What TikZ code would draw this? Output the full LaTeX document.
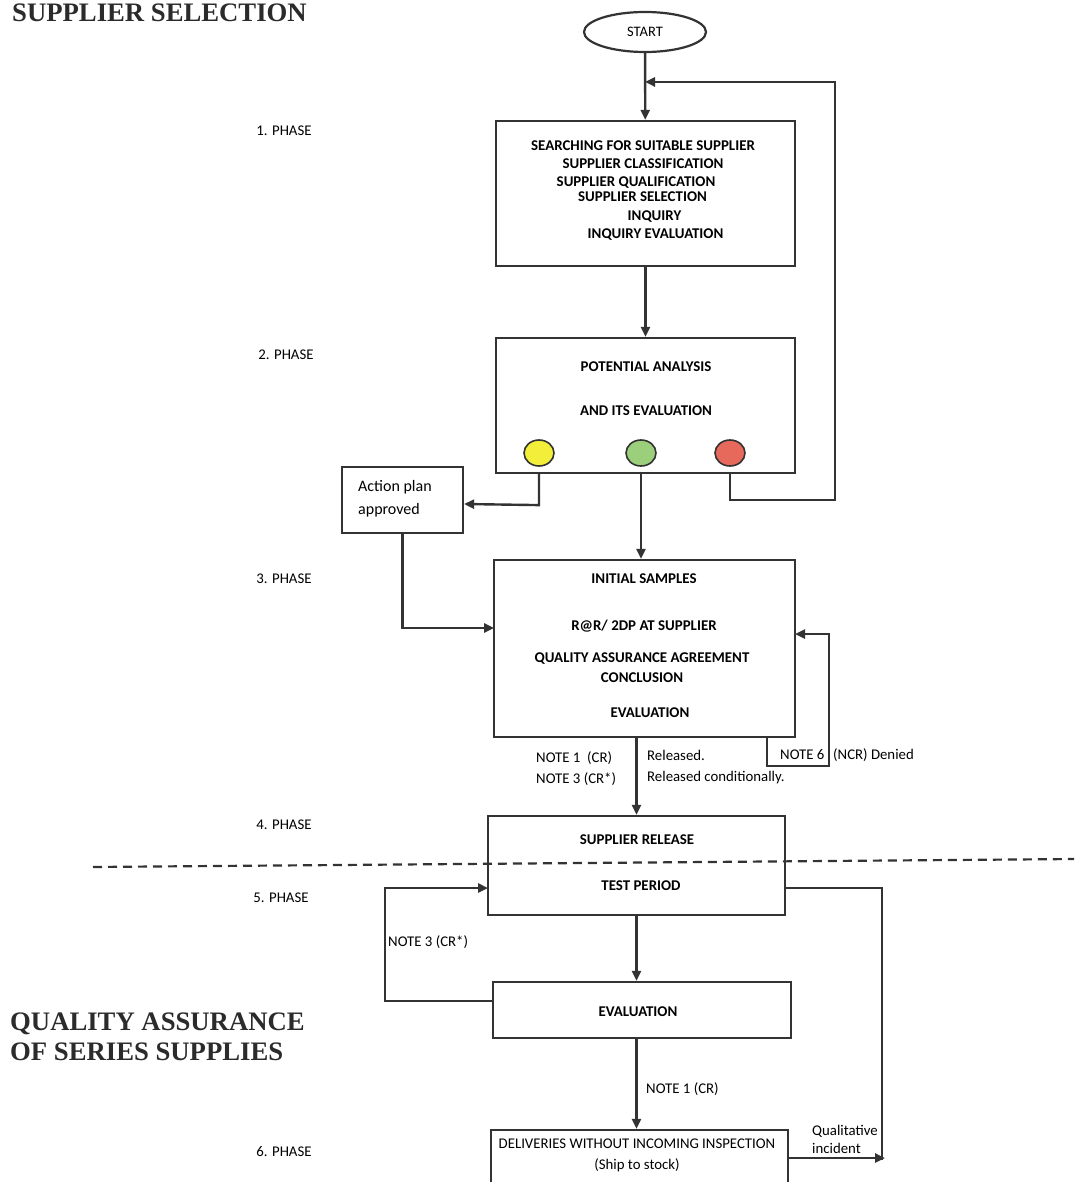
\documentclass[tikz,border=0pt]{standalone}
\usepackage{fontspec}
\setmainfont{Carlito}
\newfontfamily\titlefont{Liberation Serif}
\usetikzlibrary{arrows.meta,shapes.geometric}
\definecolor{ink}{HTML}{333333}
\definecolor{ttl}{HTML}{2B2B2B}
\definecolor{cyel}{HTML}{F3EE3A}
\definecolor{cgrn}{HTML}{9CCF7C}
\definecolor{cred}{HTML}{E6695B}
\tikzset{
  boxn/.style={draw=ink,line width=2.2pt,minimum width=#1,inner sep=0pt},
  conn/.style={draw=ink,line width=2.4pt},
  arr/.style={conn,-{Triangle[length=10pt,width=9pt]}},
  bt/.style={font=\fontsize{14.9}{16}\selectfont\bfseries,text=black,anchor=mid,inner sep=0pt,yshift=-3pt},
  rt/.style={font=\fontsize{14.8}{16}\selectfont,text=black,anchor=mid west,inner sep=0pt,yshift=-3pt},
  ph/.style={font=\fontsize{14.8}{16}\selectfont,text=black,anchor=mid,inner sep=0pt,yshift=-3pt},
  big/.style={font=\titlefont\fontsize{26.7}{30}\selectfont\bfseries,text=ttl,anchor=base west,inner sep=0pt},
  lamp/.style={ellipse,draw=ink,line width=1.6pt,minimum width=30pt,minimum height=26pt,inner sep=0pt}
}
\begin{document}
\begin{tikzpicture}[x=1pt,y=-1pt]
\useasboundingbox (0,0) rectangle (1074,1182);
\clip (0,0) rectangle (1074,1182);
\fill[white] (0,0) rectangle (1074,1182);

% titles
\node[big] (tsel) at (12,22) {SUPPLIER SELECTION};
\node[big] (tqa1) at (10,1030) {QUALITY ASSURANCE};
\node[big] (tqa2) at (10,1060) {OF SERIES SUPPLIES};

% phase labels
\node[ph] (p1) at (284,130) {1. PHASE};
\node[ph] (p2) at (286,354) {2. PHASE};
\node[ph] (p3) at (284,578) {3. PHASE};
\node[ph] (p4) at (284,824) {4. PHASE};
\node[ph] (p5) at (281,897) {5. PHASE};
\node[ph] (p6) at (284,1151) {6. PHASE};

% start
\node[ellipse,draw=ink,line width=2.2pt,minimum width=122pt,minimum height=40pt,inner sep=0pt,
      font=\fontsize{14.5}{15}\selectfont] (start) at (645,32) {START};

% box 1
\node[boxn=299pt,minimum height=145pt] (b1) at (645.5,193.5) {};
\node[bt] (b1a) at (643,145) {SEARCHING FOR SUITABLE SUPPLIER};
\node[bt] (b1b) at (643,163) {SUPPLIER CLASSIFICATION};
\node[bt] (b1c) at (636,181) {SUPPLIER QUALIFICATION};
\node[bt] (b1d) at (642.5,196) {SUPPLIER SELECTION};
\node[bt] (b1e) at (654.5,215) {INQUIRY};
\node[bt] (b1f) at (655.5,233) {INQUIRY EVALUATION};

% box 2
\node[boxn=299pt,minimum height=135pt] (b2) at (645.5,405.5) {};
\node[bt] (b2a) at (646,366) {POTENTIAL ANALYSIS};
\node[bt] (b2b) at (646,410) {AND ITS EVALUATION};
\node[lamp,fill=cyel] (yel) at (539,453) {};
\node[lamp,fill=cgrn] (grn) at (641,453) {};
\node[lamp,fill=cred] (red) at (730,453) {};

% action plan
\node[boxn=121pt,minimum height=66pt] (ap) at (402.5,500) {};
\node[font=\fontsize{16}{17}\selectfont,anchor=mid west,inner sep=0pt,yshift=-3pt] (apa) at (358,486) {Action plan};
\node[font=\fontsize{16}{17}\selectfont,anchor=mid west,inner sep=0pt,yshift=-3pt] (apb) at (358,509) {approved};

% box 3
\node[boxn=301pt,minimum height=177pt] (b3) at (644.5,648.5) {};
\node[bt] (b3a) at (644,578) {INITIAL SAMPLES};
\node[bt] (b3b) at (644,625) {R@R/ 2DP AT SUPPLIER};
\node[bt] (b3c) at (642,657) {QUALITY ASSURANCE AGREEMENT};
\node[bt] (b3d) at (642,677) {CONCLUSION};
\node[bt] (b3e) at (650,712) {EVALUATION};

\node[rt] (n1) at (536,757) {NOTE 1\ \ (CR)};
\node[rt] (n3) at (536,778) {NOTE 3 (CR*)};
\node[rt] (rel1) at (647,755) {Released.};
\node[rt] (rel2) at (647,776) {Released conditionally.};
\node[rt] (n6) at (780,754) {NOTE 6};
\node[rt] (den) at (833,754) {(NCR) Denied};

% box 4
\node[boxn=297pt,minimum height=99pt] (b4) at (636.5,865.5) {};
\node[bt] (b4a) at (637,839) {SUPPLIER RELEASE};
\node[bt] (b4b) at (641,885) {TEST PERIOD};

% dashed separator
\coordinate (dl) at (93,867);
\coordinate (dr) at (1074,859);
\draw[ink,line width=2.2pt,dash pattern=on 9pt off 6pt] (dl) -- (dr);

% evaluation
\node[boxn=298pt,minimum height=56pt] (ev) at (642,1010) {};
\node[bt] (eva) at (638,1011) {EVALUATION};
\node[rt] (n3b) at (388,941) {NOTE 3 (CR*)};
\node[rt] (n1b) at (646,1088) {NOTE 1 (CR)};

% deliveries
\node[boxn=297pt,minimum height=70pt] (dv) at (639.5,1165) {};
\node[ph] (dva) at (637,1143) {DELIVERIES WITHOUT INCOMING INSPECTION};
\node[ph] (dvb) at (637,1164) {(Ship to stock)};
\node[rt] (q1) at (812,1130) {Qualitative};
\node[rt] (q2) at (812,1148) {incident};

% coordinates for connectors
\coordinate (rtop) at (835,82);
\coordinate (b3in) at (494,628);
\coordinate (ncrA) at (767,737);
\coordinate (ncrB) at (829,766);
\coordinate (b3r) at (795,634);
\coordinate (evl) at (493,1001);
\coordinate (lft) at (385,888);
\coordinate (b4in) at (488,888);
\coordinate (b4r) at (785,888);
\coordinate (rgt) at (882,1160);
\coordinate (dvr) at (788,1158);
\coordinate (dvend) at (885,1158);

% connectors
\draw[arr] (start) -- (b1);
\draw[arr] (b1) -- (b2);
\draw[arr] (yel |- b2.south) -- ++(0,31) -- (ap.east |- 0,504);
\draw[arr] (grn |- b2.south) -- (grn |- b3.north);
\draw[arr] (red |- b2.south) -- ++(0,26) -| (rtop) -- (start |- rtop);
\draw[arr] (ap.south) |- (b3in);
\draw[arr] (b4.north |- b3.south) -- (b4.north);
\draw[arr] (ncrA) |- (ncrB) |- (b3r);
\draw[arr] (b4.south) -- (b4.south |- ev.north);
\draw[arr] (evl) -| (lft) -- (b4in);
\draw[arr] (ev.south -| b4.south) -- (b4.south |- dv.north);
\draw[conn] (b4r) -| (rgt);
\draw[arr] (dvr) -- (dvend);
\end{tikzpicture}
\end{document}
